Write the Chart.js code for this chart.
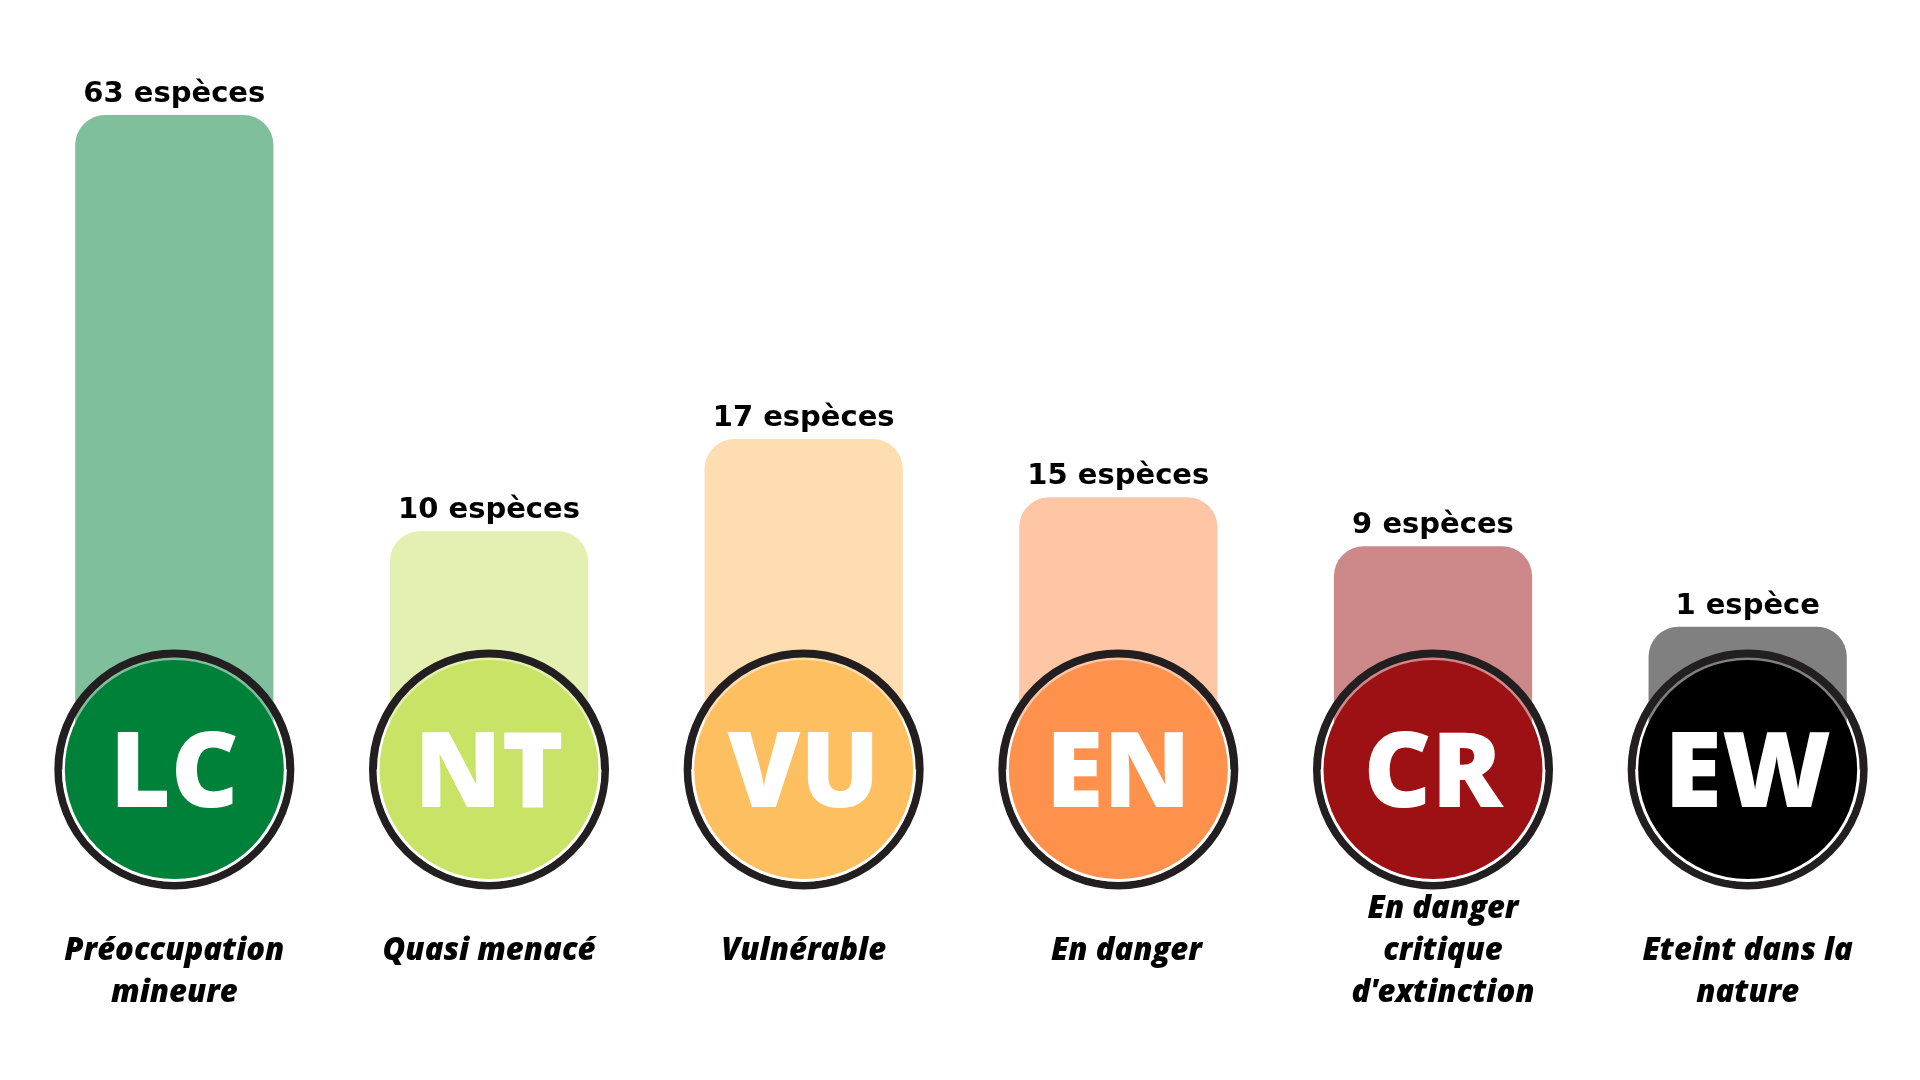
<!DOCTYPE html>
<html lang="fr">
<head>
<meta charset="utf-8">
<title>Statut UICN des espèces</title>
<script src="https://cdn.jsdelivr.net/npm/chart.js@4.4.1/dist/chart.umd.min.js"></script>
<style>
	html, body { margin: 0; padding: 0; background: #ffffff; overflow: hidden; }
	#wrap { width: 1920px; height: 1080px; position: relative; }
</style>
</head>
<body>
<div id="wrap"><canvas id="statut"></canvas></div>
<script>
// IUCN categories
const statusCodes = ["LC", "NT", "VU", "EN", "CR", "EW"];
const statusNames = [
	["Préoccupation", "mineure"],
	["Quasi menacé"],
	["Vulnérable"],
	["En danger"],
	["En danger", "critique", "d'extinction"],
	["Eteint dans la", "nature"],
];

// Number of species per category (labels above the bars)
const speciesCounts = [63, 10, 17, 15, 9, 1];

// Bar length as drawn in the picture, % of the tallest bar
// (the picture does not draw the bars proportional to the counts)
const barLengths = [100, 36.4, 50.5, 41.6, 34.1, 21.8];

const barColors = ["#80bf9c", "#e4f0b2", "#fedeb0", "#fec6a5", "#cd898a", "#808080"];
const circleColors = ["#00813a", "#c9e367", "#febf61", "#fe914c", "#9d1014", "#000000"];

// small horizontal nudge of some names, like in the original layout
const nameNudge = [0, 0, 0, 8, 10, 0];

function countLabel(n) {
	return n + (n > 1 ? " espèces" : " espèce");
}

// Draws the count above each bar, the status badge on the base and the name below
const badgePlugin = {
	id: "badges",
	afterDatasetsDraw(chart) {
		const ctx = chart.ctx;
		const meta = chart.getDatasetMeta(0);
		const yBase = chart.scales.y.getPixelForValue(0);

		meta.data.forEach((bar, i) => {
			const x = bar.x;

			// count label
			ctx.save();
			ctx.fillStyle = "#000000";
			ctx.font = "bold 29px 'DejaVu Sans'";
			ctx.textAlign = "center";
			ctx.textBaseline = "alphabetic";
			ctx.fillText(countLabel(speciesCounts[i]), x, bar.y - 13);
			ctx.restore();

			// badge: black ring, transparent gap, coloured disc
			ctx.save();
			ctx.beginPath();
			ctx.arc(x, yBase, 116, 0, Math.PI * 2);
			ctx.lineWidth = 8;
			ctx.strokeStyle = "#231f20";
			ctx.stroke();

			// white under the gap where there's no bar
			ctx.beginPath();
			ctx.arc(x, yBase, 112.5, 0, Math.PI);
			ctx.fillStyle = "#ffffff";
			ctx.fill();

			ctx.beginPath();
			ctx.arc(x, yBase, 109.5, 0, Math.PI * 2);
			ctx.fillStyle = circleColors[i];
			ctx.fill();

			ctx.fillStyle = "#ffffff";
			ctx.font = "800 105px 'Open Sans'";
			ctx.textAlign = "center";
			ctx.textBaseline = "alphabetic";
			ctx.fillText(statusCodes[i], x, yBase + 37.5);
			ctx.restore();

			// category name
			const lines = statusNames[i];
			const firstLine = 960 - 42 * Math.max(0, lines.length - 2);
			ctx.save();
			ctx.fillStyle = "#000000";
			ctx.font = "italic 800 31px 'Open Sans'";
			ctx.textAlign = "center";
			ctx.textBaseline = "alphabetic";
			lines.forEach((line, j) => {
				ctx.fillText(line, x + nameNudge[i], firstLine + j * 42);
			});
			ctx.restore();
		});
	},
};

new Chart(document.getElementById("statut"), {
	type: "bar",
	data: {
		labels: statusCodes,
		datasets: [
			{
				label: "Espèces",
				data: barLengths,
				backgroundColor: barColors,
				borderWidth: 0,
				borderRadius: { topLeft: 30, topRight: 30, bottomLeft: 0, bottomRight: 0 },
				borderSkipped: false,
				categoryPercentage: 1,
				barPercentage: 0.63,
			},
		],
	},
	options: {
		responsive: true,
		maintainAspectRatio: false,
		animation: false,
		layout: {
			padding: { top: 115, bottom: 310.5, left: 17, right: 15 },
		},
		plugins: {
			legend: { display: false },
			tooltip: { enabled: false },
		},
		scales: {
			x: { display: false },
			y: { display: false, min: 0, max: 100 },
		},
	},
	plugins: [badgePlugin],
});
</script>
</body>
</html>
